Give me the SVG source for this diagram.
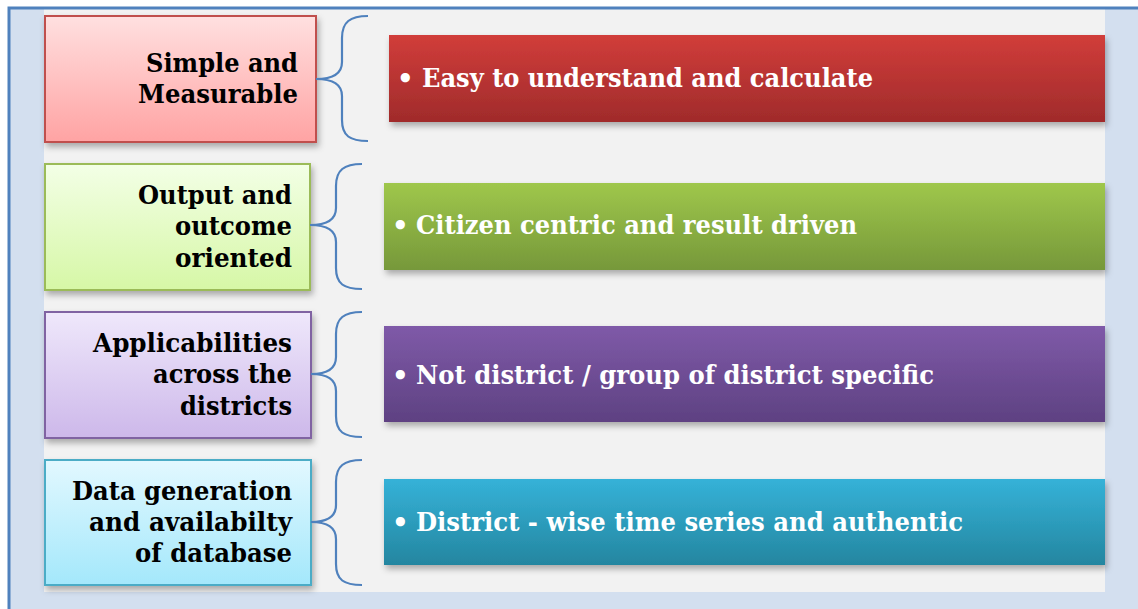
<svg xmlns="http://www.w3.org/2000/svg" width="1138" height="609" viewBox="0 0 1138 609">
<style>
.lbl{font-family:"DejaVu Serif","Liberation Serif",serif;font-weight:bold;font-size:26px;fill:#000;text-anchor:end}
.bar{font-family:"DejaVu Serif","Liberation Serif",serif;font-weight:bold;font-size:26px;fill:#fff}
.brace{fill:none;stroke:#4f81bd;stroke-width:2.2}
</style>
<defs>
<linearGradient id="gPink" x1="0" y1="0" x2="0" y2="1"><stop offset="0" stop-color="#ffe0e0"/><stop offset="1" stop-color="#ffa3a3"/></linearGradient>
<linearGradient id="gLime" x1="0" y1="0" x2="0" y2="1"><stop offset="0" stop-color="#f3ffe6"/><stop offset="1" stop-color="#d6f7a6"/></linearGradient>
<linearGradient id="gLav" x1="0" y1="0" x2="0" y2="1"><stop offset="0" stop-color="#efe8fb"/><stop offset="1" stop-color="#cdb8ea"/></linearGradient>
<linearGradient id="gSky" x1="0" y1="0" x2="0" y2="1"><stop offset="0" stop-color="#e2f8ff"/><stop offset="1" stop-color="#a4e8fb"/></linearGradient>
<linearGradient id="gRed" x1="0" y1="0" x2="0" y2="1"><stop offset="0" stop-color="#d13d3a"/><stop offset="1" stop-color="#a02b2b"/></linearGradient>
<linearGradient id="gGreen" x1="0" y1="0" x2="0" y2="1"><stop offset="0" stop-color="#9fc74b"/><stop offset="1" stop-color="#76983a"/></linearGradient>
<linearGradient id="gPurple" x1="0" y1="0" x2="0" y2="1"><stop offset="0" stop-color="#7f5aa8"/><stop offset="1" stop-color="#5e4182"/></linearGradient>
<linearGradient id="gCyan" x1="0" y1="0" x2="0" y2="1"><stop offset="0" stop-color="#35b2d8"/><stop offset="1" stop-color="#2486a0"/></linearGradient>
<filter id="sh" x="-5%" y="-10%" width="115%" height="130%"><feDropShadow dx="2" dy="4" stdDeviation="3" flood-color="#000" flood-opacity="0.3"/></filter>
</defs>
<rect width="1138" height="609" fill="#fff"/>
<rect x="9" y="8" width="1129" height="601" fill="#d3dfef"/>
<rect x="44" y="9" width="1061" height="583" fill="#f2f2f2"/>
<path d="M9 609 V8 H1138" fill="none" stroke="#4f81bd" stroke-width="3"/>

<g id="node1">
<rect x="45" y="16" width="271" height="126" fill="url(#gPink)" stroke="#c0504d" stroke-width="2" filter="url(#sh)"/>
<text class="lbl" x="298" y="72" textLength="152" lengthAdjust="spacingAndGlyphs">Simple and</text>
<text class="lbl" x="298" y="103" textLength="160" lengthAdjust="spacingAndGlyphs">Measurable</text>
</g>
<g id="bar1">
<rect x="389" y="35" width="716" height="87" fill="url(#gRed)" filter="url(#sh)"/>
<text class="bar" x="397" y="87">•</text>
<text class="bar" x="422" y="87" textLength="451" lengthAdjust="spacingAndGlyphs">Easy to understand and calculate</text>
</g>

<g id="node2">
<rect x="45" y="164" width="265" height="126" fill="url(#gLime)" stroke="#9bbb59" stroke-width="2" filter="url(#sh)"/>
<text class="lbl" x="292" y="204" textLength="154" lengthAdjust="spacingAndGlyphs">Output and</text>
<text class="lbl" x="292" y="235" textLength="117" lengthAdjust="spacingAndGlyphs">outcome</text>
<text class="lbl" x="292" y="267" textLength="117" lengthAdjust="spacingAndGlyphs">oriented</text>
</g>
<g id="bar2">
<rect x="384" y="183" width="721" height="87" fill="url(#gGreen)" filter="url(#sh)"/>
<text class="bar" x="392" y="234">•</text>
<text class="bar" x="416" y="234" textLength="441" lengthAdjust="spacingAndGlyphs">Citizen centric and result driven</text>
</g>

<g id="node3">
<rect x="45" y="312" width="266" height="126" fill="url(#gLav)" stroke="#8064a2" stroke-width="2" filter="url(#sh)"/>
<text class="lbl" x="292" y="352" textLength="199" lengthAdjust="spacingAndGlyphs">Applicabilities</text>
<text class="lbl" x="292" y="383" textLength="139" lengthAdjust="spacingAndGlyphs">across the</text>
<text class="lbl" x="292" y="415" textLength="112" lengthAdjust="spacingAndGlyphs">districts</text>
</g>
<g id="bar3">
<rect x="384" y="326" width="721" height="96" fill="url(#gPurple)" filter="url(#sh)"/>
<text class="bar" x="392" y="384">•</text>
<text class="bar" x="416" y="384" textLength="518" lengthAdjust="spacingAndGlyphs">Not district / group of district specific</text>
</g>

<g id="node4">
<rect x="45" y="460" width="266" height="125" fill="url(#gSky)" stroke="#4bacc6" stroke-width="2" filter="url(#sh)"/>
<text class="lbl" x="292" y="500" textLength="220" lengthAdjust="spacingAndGlyphs">Data generation</text>
<text class="lbl" x="292" y="531" textLength="203" lengthAdjust="spacingAndGlyphs">and availabilty</text>
<text class="lbl" x="292" y="562" textLength="157" lengthAdjust="spacingAndGlyphs">of database</text>
</g>
<g id="bar4">
<rect x="384" y="479" width="721" height="86" fill="url(#gCyan)" filter="url(#sh)"/>
<text class="bar" x="392" y="531">•</text>
<text class="bar" x="416" y="531" textLength="547" lengthAdjust="spacingAndGlyphs">District - wise time series and authentic</text>
</g>

<g id="connectors">
<path class="brace" d="M368 16 C350 16 342 22 342 38 V62 C342 74 332 79 316 79 C332 79 342 84 342 96 V120 C342 136 350 141 368 141"/>
<path class="brace" d="M362 164 C344 164 336 170 336 186 V208 C336 220 326 225 310 225 C326 225 336 230 336 242 V268 C336 284 344 289 362 289"/>
<path class="brace" d="M362 312 C344 312 336 318 336 334 V357 C336 369 327 374 311 374 C327 374 336 379 336 391 V416 C336 432 344 437 362 437"/>
<path class="brace" d="M362 460 C344 460 336 466 336 482 V505 C336 517 327 522 311 522 C327 522 336 527 336 539 V564 C336 580 344 585 362 585"/>
</g>
</svg>
